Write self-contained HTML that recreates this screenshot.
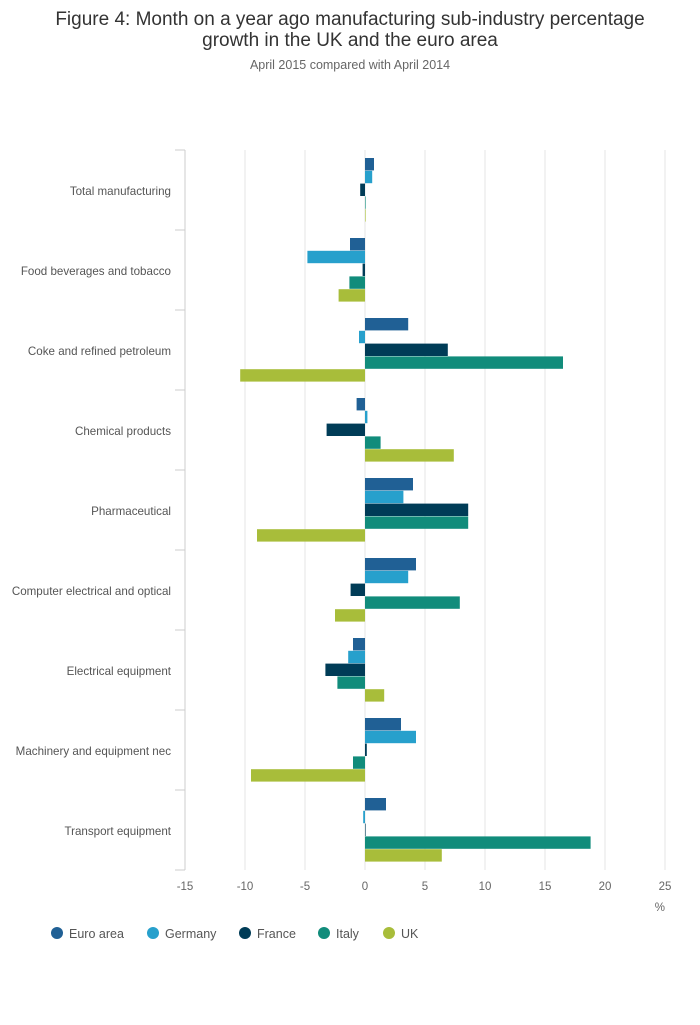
<!DOCTYPE html>
<html><head><meta charset="utf-8"><style>
body{margin:0;background:#fff;font-family:"Liberation Sans",sans-serif;}
svg text{font-family:"Liberation Sans",sans-serif;}
</style></head><body>
<svg id="chart" width="700" height="1020">
<text x="350" y="25" text-anchor="middle" font-size="19" fill="#333">Figure 4: Month on a year ago manufacturing sub-industry percentage</text>
<text x="350" y="46" text-anchor="middle" font-size="19" fill="#333">growth in the UK and the euro area</text>
<text x="350" y="69" text-anchor="middle" font-size="12.5" fill="#666">April 2015 compared with April 2014</text>
<g id="grid"></g><g id="bars"></g><g id="axes"></g><g id="legend"></g>
</svg>
<script>
const categories=["Total manufacturing","Food beverages and tobacco","Coke and refined petroleum","Chemical products","Pharmaceutical","Computer electrical and optical","Electrical equipment","Machinery and equipment nec","Transport equipment"];
const seriesNames=["Euro area","Germany","France","Italy","UK"];
const euroArea=[0.75,-1.25,3.6,-0.7,4.0,4.25,-1.0,3.0,1.75];
const germany=[0.6,-4.8,-0.5,0.2,3.2,3.6,-1.4,4.25,-0.15];
const france=[-0.4,-0.2,6.9,-3.2,8.6,-1.2,-3.3,0.15,0.05];
const italy=[0.05,-1.3,16.5,1.3,8.6,7.9,-2.3,-1.0,18.8];
const uk=[0.05,-2.2,-10.4,7.4,-9.0,-2.5,1.6,-9.5,6.4];
const xTicks=[-15,-10,-5,0,5,10,15,20,25];
const colors=["#206095","#27a0cc","#003c57","#118c7b","#a8bd3a"];
const series=[euroArea,germany,france,italy,uk];
const NS="http://www.w3.org/2000/svg";
const x=v=>365+(v)*12;
const top0=150,band=80,barH=12.8,pad=8;
function mk(t,a,p){const e=document.createElementNS(NS,t);for(const k in a)e.setAttribute(k,a[k]);p.appendChild(e);return e;}
const grid=document.getElementById('grid'),bars=document.getElementById('bars'),axes=document.getElementById('axes'),legend=document.getElementById('legend');
xTicks.forEach(t=>{
 const l=mk('line',{x1:x(t),x2:x(t),y1:top0,y2:top0+band*categories.length,stroke:'#e6e6e6'},grid);
 
 
 const tx=mk('text',{x:x(t),y:890,'text-anchor':'middle','font-size':11.5,fill:'#666'},axes);
 tx.textContent=t;
 
 
});
const ax=mk('line',{x1:185,x2:185,y1:top0,y2:top0+band*categories.length,stroke:'#ccc'},axes);


categories.forEach((c,i)=>{
 const y0=top0+i*band;
 const tk=mk('line',{x1:175,x2:185,y1:y0,y2:y0,stroke:'#ccc'},axes);
 
 
 const t=mk('text',{x:171,y:y0+band/2+5,'text-anchor':'end','font-size':11.6,fill:'#555'},axes);
 t.textContent=c;
 
 
 series.forEach((s,j)=>{
  const v=s[i];
  const r=mk('rect',{x:Math.min(x(0),x(v)),y:y0+pad+j*barH,width:Math.max(Math.abs(x(v)-x(0)),0.6),height:barH-0.4,fill:colors[j]},bars);
  
  
 });
});
const tkl=mk('line',{x1:175,x2:185,y1:870,y2:870,stroke:'#ccc'},axes);


const pct=mk('text',{x:665,y:911,'text-anchor':'end','font-size':11.5,fill:'#666'},axes);
pct.textContent='%';


const lx=[57,153,245,324,389];
seriesNames.forEach((n,j)=>{
 const g=mk('g',{},legend);
 
 
 mk('circle',{cx:lx[j],cy:933,r:6,fill:colors[j]},g);
 const t=mk('text',{x:lx[j]+12,y:938,'font-size':12.5,fill:'#555'},g);
 t.textContent=n;
});
</script>
</body></html>
